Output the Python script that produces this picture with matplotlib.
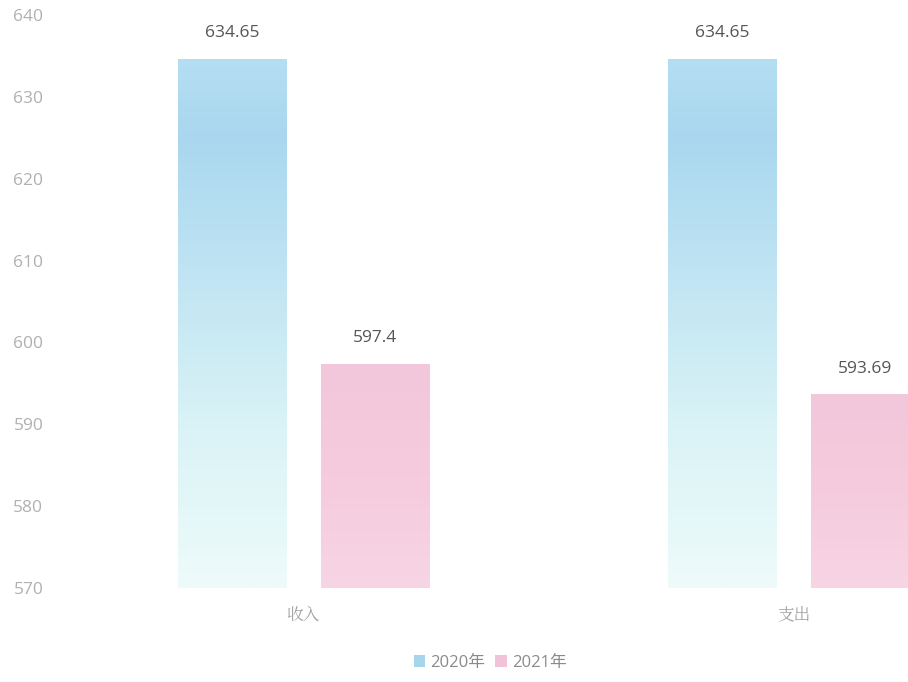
import matplotlib
matplotlib.use("Agg")
import matplotlib.pyplot as plt
import numpy as np
from matplotlib.colors import LinearSegmentedColormap
from matplotlib.patches import Patch

plt.rcParams['font.family'] = ['Open Sans', 'Noto Sans CJK SC', 'DejaVu Sans']

categories = ['收入', '支出']
series_names = ['2020年', '2021年']
values_2020 = [634.65, 634.65]
values_2021 = [597.4, 593.69]
yticks = [570, 580, 590, 600, 610, 620, 630, 640]

W, H = 908, 682
fig = plt.figure(figsize=(W / 100, H / 100), dpi=100)
ax = fig.add_axes([60 / W, 1 - 588 / H, (W - 60) / W, (588 - 15) / H])

ymin, ymax = 570, 640
ax.set_ylim(ymin, ymax)
ax.set_xlim(-0.498, 1.233)

blue_cmap = LinearSegmentedColormap.from_list(
    'b', [(0.0, '#eefbfa'), (0.3, '#daf3f6'), (0.6, '#bfe4f3'), (0.85, '#aad7ef'), (1.0, '#b4def2')])
pink_cmap = LinearSegmentedColormap.from_list(
    'p', [(0.0, '#f7d5e4'), (0.5, '#f5cbdd'), (1.0, '#f3c7db')])

width = 0.222
offset = 0.146
x = np.arange(len(categories))
grad = np.linspace(0, 1, 256).reshape(-1, 1)

for vals, cmap, off in [(values_2020, blue_cmap, -offset), (values_2021, pink_cmap, offset)]:
    bars = ax.bar(x + off, np.array(vals) - ymin, width, bottom=ymin, color='none', edgecolor='none')
    for b, v in zip(bars, vals):
        x0 = b.get_x()
        im = ax.imshow(grad, cmap=cmap, aspect='auto', origin='lower',
                       extent=[x0, x0 + b.get_width(), ymin, v], zorder=2)
        im.set_clip_path(b)
        ax.text(x0 + b.get_width() / 2, v + 3.1, f'{v:g}', ha='center', va='center',
                fontsize=12.5, color='#555555')

ax.set_xticks(x)
ax.set_xticklabels(categories, fontsize=12, color='#a0a0a0', family=['Noto Serif CJK SC', 'Noto Sans CJK SC'])
ax.set_yticks(yticks)
ax.set_yticklabels([str(t) for t in yticks], fontsize=12.5, color='#b0b0b0')
ax.tick_params(length=0)
ax.tick_params(axis='y', pad=12)
ax.tick_params(axis='x', pad=13)
for s in ax.spines.values():
    s.set_visible(False)

handles = [Patch(facecolor='#a6d6ec', edgecolor='none'), Patch(facecolor='#f2c2d8', edgecolor='none')]
leg = fig.legend(handles, series_names, loc='center', bbox_to_anchor=(490 / W, 1 - 663 / H),
                 ncol=2, frameon=False, fontsize=12, handlelength=0.7, handleheight=0.7,
                 handletextpad=0.3, columnspacing=0.6)
for t in leg.get_texts():
    t.set_color('#8a8a8a')

fig.savefig('out.png', dpi=100)
